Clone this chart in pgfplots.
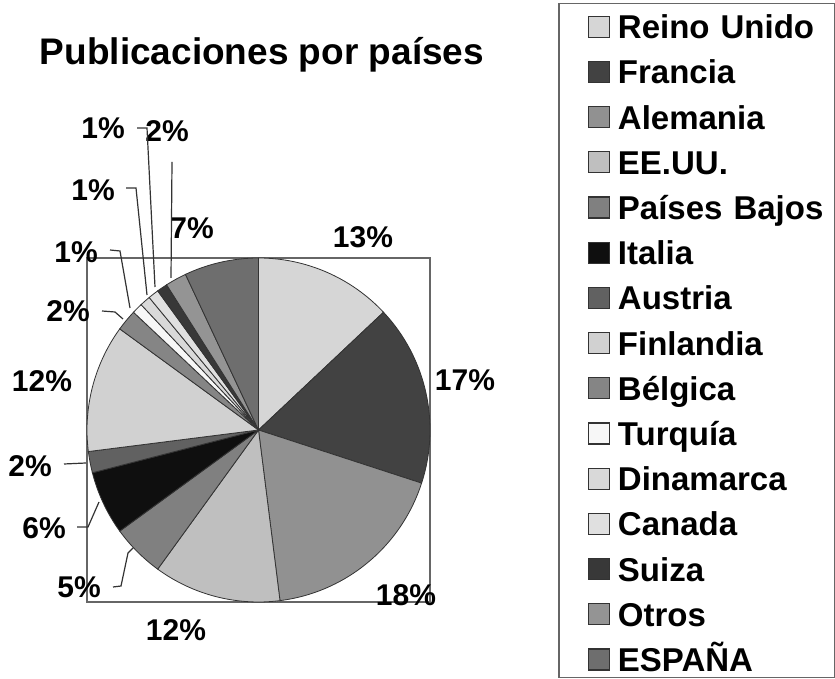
\documentclass[border=0pt]{standalone}
\usepackage{pgfplots}
\usepackage{pgfplotstable}
\pgfplotsset{compat=1.18}
\usepackage{fontspec}
\setmainfont{Liberation Sans}

\definecolor{c0}{gray}{0.84}
\definecolor{c1}{gray}{0.26}
\definecolor{c2}{gray}{0.57}
\definecolor{c3}{gray}{0.75}
\definecolor{c4}{gray}{0.50}
\definecolor{c5}{gray}{0.06}
\definecolor{c6}{gray}{0.38}
\definecolor{c7}{gray}{0.82}
\definecolor{c8}{gray}{0.52}
\definecolor{c9}{gray}{0.97}
\definecolor{c10}{gray}{0.85}
\definecolor{c11}{gray}{0.88}
\definecolor{c12}{gray}{0.22}
\definecolor{c13}{gray}{0.58}
\definecolor{c14}{gray}{0.43}
\definecolor{edge}{gray}{0.2}
\definecolor{boxgray}{gray}{0.40}

\pgfplotstableread[col sep=comma]{
country,value
Reino Unido,13
Francia,17
Alemania,18
EE.UU.,12
Paises Bajos,5
Italia,6
Austria,2
Finlandia,12
Belgica,2
Turquia,1
Dinamarca,1
Canada,1
Suiza,1
Otros,2
ESPANA,7
}\pubdata

\newcommand\titlefont{\fontsize{37}{44}\selectfont\bfseries}
\newcommand\labfont{\fontsize{30}{36}\selectfont\bfseries}
\newcommand\legfont{\fontsize{33}{39}\selectfont\bfseries}

\begin{document}
\begin{tikzpicture}[x=1pt,y=1pt]
\useasboundingbox (0,0) rectangle (835,679);

% cumulative angles from the table
\gdef\cum{0}
\foreach \i in {0,...,14}{%
  \pgfplotstablegetelem{\i}{value}\of\pubdata
  \let\val\pgfplotsretval
  \pgfmathsetmacro{\startA}{90-3.6*\cum}%
  \pgfmathsetmacro{\newcum}{\cum+\val}%
  \pgfmathsetmacro{\endA}{90-3.6*\newcum}%
  \expandafter\xdef\csname sliceS\i\endcsname{\startA}%
  \expandafter\xdef\csname sliceE\i\endcsname{\endA}%
  \xdef\cum{\newcum}%
}

\begin{axis}[
  at={(87pt,77pt)}, anchor=south west,
  scale only axis, width=343pt, height=344pt,
  xmin=-1, xmax=1, ymin=-1, ymax=1,
  xtick=\empty, ytick=\empty,
  axis line style={draw=boxgray, line width=1.5pt},
  clip=false,
  legend image code/.code={%
    \path (-29pt,0pt) (29pt,0pt);
    \draw[#1] (0pt,-13pt) rectangle (21pt,8pt);
  },
  legend style={
    at={(1.3732,1.7413)}, anchor=north west,
    draw=boxgray, line width=1.5pt,
    font=\legfont,
    inner xsep=0pt, inner ysep=6pt,
    row sep=16.2pt,
    nodes={inner sep=0pt, text height=29pt, text depth=0pt, text width=217pt, align=left},
  },
  legend cell align=left,
]
\pgfplotsinvokeforeach{0,...,14}{
  \filldraw[fill=c#1, draw=edge, line width=0.8pt]
    (0,0) -- ({cos(\csname sliceS#1\endcsname)},{sin(\csname sliceS#1\endcsname)})
    arc[start angle=\csname sliceS#1\endcsname, end angle=\csname sliceE#1\endcsname, radius=1] -- cycle;
}
\addlegendimage{fill=c0, draw=edge, line width=1.2pt}\addlegendentry{Reino Unido}
\addlegendimage{fill=c1, draw=edge, line width=1.2pt}\addlegendentry{Francia}
\addlegendimage{fill=c2, draw=edge, line width=1.2pt}\addlegendentry{Alemania}
\addlegendimage{fill=c3, draw=edge, line width=1.2pt}\addlegendentry{EE.UU.}
\addlegendimage{fill=c4, draw=edge, line width=1.2pt}\addlegendentry{Países Bajos}
\addlegendimage{fill=c5, draw=edge, line width=1.2pt}\addlegendentry{Italia}
\addlegendimage{fill=c6, draw=edge, line width=1.2pt}\addlegendentry{Austria}
\addlegendimage{fill=c7, draw=edge, line width=1.2pt}\addlegendentry{Finlandia}
\addlegendimage{fill=c8, draw=edge, line width=1.2pt}\addlegendentry{Bélgica}
\addlegendimage{fill=c9, draw=edge, line width=1.2pt}\addlegendentry{Turquía}
\addlegendimage{fill=c10, draw=edge, line width=1.2pt}\addlegendentry{Dinamarca}
\addlegendimage{fill=c11, draw=edge, line width=1.2pt}\addlegendentry{Canada}
\addlegendimage{fill=c12, draw=edge, line width=1.2pt}\addlegendentry{Suiza}
\addlegendimage{fill=c13, draw=edge, line width=1.2pt}\addlegendentry{Otros}
\addlegendimage{fill=c14, draw=edge, line width=1.2pt}\addlegendentry{ESPAÑA}
\end{axis}

% title
\node[anchor=base, font=\titlefont] at (262,614) {Publicaciones por países};

% percentage labels
\begin{scope}[every node/.style={anchor=base, font=\labfont, inner sep=0pt}]
\node at (363,431) {13\%};
\node at (465,288) {17\%};
\node at (406,73) {18\%};
\node at (176,38) {12\%};
\node at (79,81) {5\%};
\node at (44,140) {6\%};
\node at (30,202) {2\%};
\node at (42,287) {12\%};
\node at (68,357) {2\%};
\node at (76,416) {1\%};
\node at (93,478) {1\%};
\node at (103,540) {1\%};
\node at (167,537) {2\%};
\node at (192,440) {7\%};
\end{scope}

% leader lines
\begin{scope}[draw=edge, line width=1.2pt]
\draw (113,92) -- (121,93) -- (128,126) -- (133,131);
\draw (77,152) -- (88,152) -- (99,177);
\draw (64,215) -- (86,216);
\draw (102,368) -- (115,367) -- (123,360);
\draw (110,429) -- (120,428) -- (130,371);
\draw (126,491) -- (136,491) -- (147,384);
\draw (137,551) -- (147,551) -- (155,392);
\draw (172,517) -- (171,401);
\end{scope}
\end{tikzpicture}
\end{document}
